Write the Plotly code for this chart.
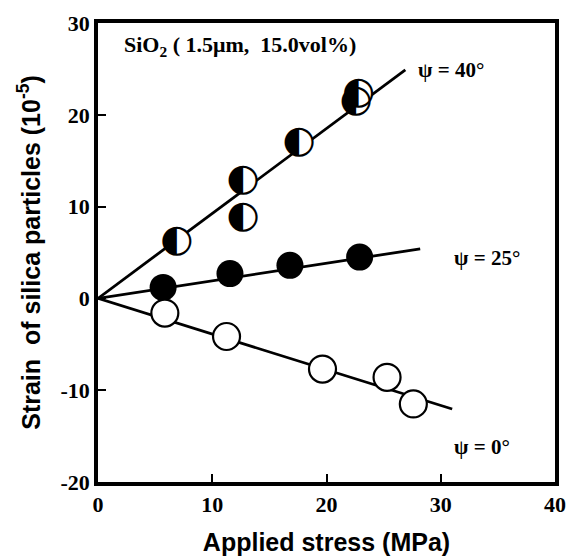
import plotly.graph_objects as go

# psi = 40 deg (half-filled circles)
x40 = [6.9, 12.7, 12.7, 17.6, 22.6, 22.8]
y40 = [6.2, 12.85, 8.85, 17.0, 21.4, 22.3]
# psi = 25 deg (filled circles)
x25 = [5.7, 11.55, 16.8, 22.9]
y25 = [1.2, 2.7, 3.6, 4.5]
# psi = 0 deg (open circles)
x0 = [5.85, 11.25, 19.65, 25.3, 27.6]
y0 = [-1.6, -4.15, -7.7, -8.6, -11.5]
# fitted straight lines (start, end)
fit40_x = [0, 26.9]
fit40_y = [0, 24.9]
fit25_x = [0, 28.2]
fit25_y = [0, 5.4]
fit0_x = [0, 31.0]
fit0_y = [0, -12.05]

x_ticks = [0, 10, 20, 30, 40]
x_ticklabels = ["0", "10", "20", "30", "40"]
y_ticks = [-20, -10, 0, 10, 20, 30]
y_ticklabels = ["-20", "-10", "0", "10", "20", "30"]

serif = "Liberation Serif, Times New Roman, serif"
sans = "Liberation Sans, Arial, sans-serif"

fig = go.Figure()
line_style = dict(color="black", width=2.8)
for fx, fy in [(fit40_x, fit40_y), (fit25_x, fit25_y), (fit0_x, fit0_y)]:
    fig.add_trace(go.Scatter(x=fx, y=fy, mode="lines", line=line_style,
                             showlegend=False, hoverinfo="skip"))

fig.add_trace(go.Scatter(
    x=x25, y=y25, mode="markers",
    marker=dict(size=27, color="black", line=dict(color="black", width=0)),
    showlegend=False))

fig.add_trace(go.Scatter(
    x=x0, y=y0, mode="markers",
    marker=dict(size=27, color="white", line=dict(color="black", width=2.2)),
    showlegend=False))

fig.add_trace(go.Scatter(
    x=x40, y=y40, mode="markers+text",
    marker=dict(size=27, color="white", line=dict(color="white", width=0)),
    text=["◐"] * len(x40), textposition="middle center",
    textfont=dict(family="DejaVu Sans", size=38, color="black"),
    showlegend=False))

ann_font = dict(family=serif, size=21, color="black", weight="bold")
fig.add_annotation(x=30.9, y=24.9, xref="x", yref="y", text="ψ = 40°",
                   showarrow=False, font=ann_font)
fig.add_annotation(x=34.05, y=4.4, xref="x", yref="y", text="ψ = 25°",
                   showarrow=False, font=ann_font)
fig.add_annotation(x=33.6, y=-16.2, xref="x", yref="y", text="ψ = 0°",
                   showarrow=False, font=ann_font)
fig.add_annotation(x=2.1, y=27.5, xref="x", yref="y", xanchor="left",
                   text="SiO<sub>2</sub> ( 1.5μm,&nbsp; 15.0vol%)",
                   showarrow=False,
                   font=dict(family=serif, size=22, color="black", weight="bold"))

axis_common = dict(
    showgrid=False, zeroline=False, showline=True, linecolor="black",
    linewidth=3.5, mirror=True, ticks="inside", ticklen=8, tickwidth=2,
    tickcolor="black", automargin=False,
    tickfont=dict(family=serif, size=22, color="black", weight="bold"),
)

fig.update_xaxes(range=[0, 40], tickvals=x_ticks, ticktext=x_ticklabels, **axis_common,
                 title=dict(text="Applied stress (MPa)",
                            font=dict(family=sans, size=25, color="black", weight="bold"),
                            standoff=18))
fig.update_yaxes(range=[-20, 30], tickvals=y_ticks, ticktext=y_ticklabels, **axis_common,
                 title=dict(text="Strain&nbsp; of silica particles (10<sup>-5</sup>)",
                            font=dict(family=sans, size=25, color="black", weight="bold"),
                            standoff=14))

fig.update_layout(
    width=567, height=558,
    margin=dict(l=98, r=12, t=23, b=76),
    plot_bgcolor="white", paper_bgcolor="white",
    showlegend=False,
)

fig.write_html("out.html")
